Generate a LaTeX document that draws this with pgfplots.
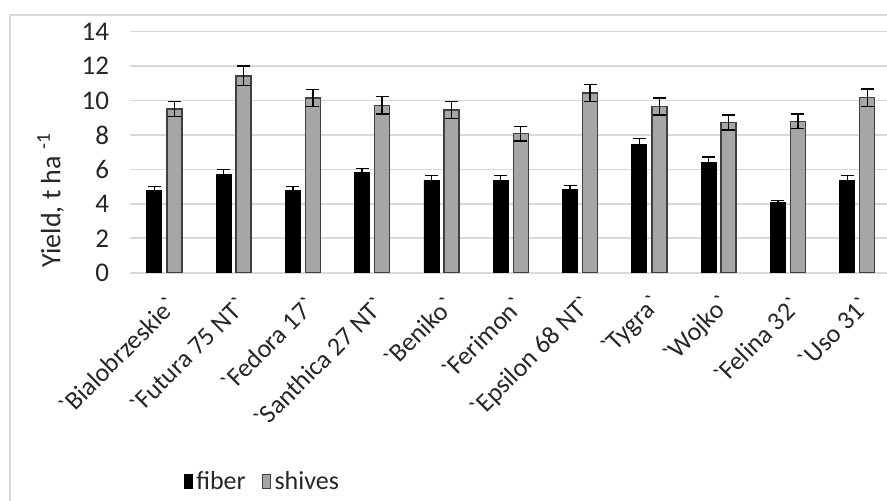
\documentclass[border=0pt]{standalone}
\usepackage{fontspec}
\setmainfont{Carlito}
\usepackage{pgfplots}
\pgfplotsset{compat=1.18}
\definecolor{gridc}{HTML}{D9D9D9}
\definecolor{shv}{HTML}{A6A6A6}
\definecolor{shvb}{HTML}{404040}
\definecolor{txt}{HTML}{262626}
\newcommand\q{\textasciigrave}
\begin{document}
\begin{tikzpicture}
\useasboundingbox (0,0) rectangle (443.5pt,-250.5pt);
\draw[gridc, line width=1pt] (5pt,-300pt) -- (5pt,-7.5pt) -- (500pt,-7.5pt);
\begin{axis}[
  at={(65pt,-136.35pt)}, anchor=south west,
  scale only axis, width=378.5pt, height=120.5pt,
  xmin=-0.495, xmax=10.43, ymin=0, ymax=14,
  ybar=2.5pt, bar width=7.5pt,
  ytick={0,2,...,14},
  xtick={0,...,10},
  xticklabels={\q Bialobrzeskie\q, \q Futura 75 NT\q, \q Fedora 17\q, \q Santhica 27 NT\q, \q Beniko\q, \q Ferimon\q, \q Epsilon 68 NT\q, \q Tygra\q, \q Wojko\q, \q Felina 32\q, \q Uso 31\q},
  axis line style={draw=none},
  major tick length=0pt,
  ymajorgrids, grid style={gridc, line width=0.8pt},
  /pgf/number format/assume math mode=true,
  tick label style={text=txt},
  yticklabel style={xshift=-7pt, font=\fontsize{13.5}{15}\selectfont},
  xticklabel style={rotate=45, anchor=east, yshift=-13pt, xshift=-4pt, font=\fontsize{13}{15}\selectfont},
  ylabel={Yield, t ha \textsuperscript{-1}},
  ylabel style={at={(axis description cs:-0.105,0.30)}, anchor=center, font=\fontsize{14}{16}\selectfont, text=txt},
  legend style={at={(0.176,-0.868)}, anchor=center, legend columns=2, draw=none, fill=none,
    font=\fontsize{13}{15}\selectfont, text=txt,
    /tikz/every even column/.append style={column sep=6pt}},
  legend image code/.code={\draw[#1, line width=0.4pt] (0pt,-3.5pt) rectangle (4pt,3.5pt);},
  error bars/y dir=both, error bars/y explicit,
  error bars/error mark options={rotate=90, mark size=3.25pt, line width=0.7pt, black},
  error bars/error bar style={line width=0.7pt, black},
]
\addplot[fill=black, draw=black]
coordinates {
(0,4.80) +- (0,0.20)
(1,5.73) +- (0,0.25)
(2,4.80) +- (0,0.20)
(3,5.81) +- (0,0.25)
(4,5.37) +- (0,0.27)
(5,5.37) +- (0,0.27)
(6,4.86) +- (0,0.20)
(7,7.44) +- (0,0.35)
(8,6.43) +- (0,0.30)
(9,4.09) +- (0,0.12)
(10,5.37) +- (0,0.27)
};
\addlegendentry{fiber}
\addplot[fill=shv, draw=shvb, line width=0.7pt]
coordinates {
(0,9.51) +- (0,0.45)
(1,11.43) +- (0,0.57)
(2,10.15) +- (0,0.50)
(3,9.73) +- (0,0.50)
(4,9.45) +- (0,0.48)
(5,8.08) +- (0,0.42)
(6,10.44) +- (0,0.50)
(7,9.65) +- (0,0.50)
(8,8.72) +- (0,0.44)
(9,8.79) +- (0,0.43)
(10,10.17) +- (0,0.50)
};
\addlegendentry{shives}
\end{axis}
\end{tikzpicture}
\end{document}
